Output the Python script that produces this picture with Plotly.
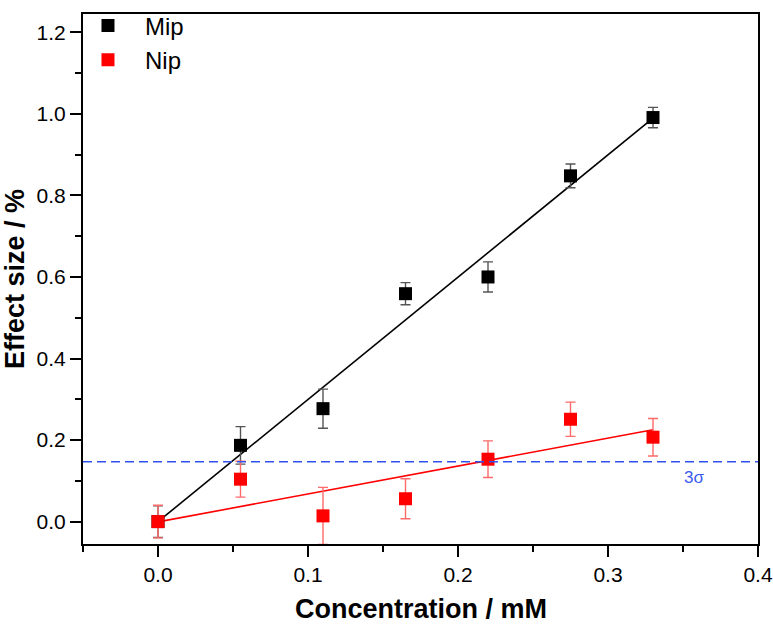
import numpy as np
import plotly.graph_objects as go

conc = [0.0, 0.055, 0.11, 0.165, 0.22, 0.275, 0.33]
mip = [0.0, 0.187, 0.277, 0.559, 0.600, 0.848, 0.991]
mip_err = [0.039, 0.046, 0.048, 0.027, 0.037, 0.029, 0.025]
nip = [0.0, 0.104, 0.014, 0.056, 0.153, 0.251, 0.207]
nip_err = [0.040, 0.044, 0.070, 0.049, 0.045, 0.042, 0.046]
three_sigma = 0.147

x_ticks = [0.0, 0.1, 0.2, 0.3, 0.4]
y_ticks = [0.0, 0.2, 0.4, 0.6, 0.8, 1.0, 1.2]

FONT = "Liberation Sans, Arial, sans-serif"

x = np.array(conc)
fit_x = np.array([x.min(), x.max()])

series = [
    ("Mip", mip, mip_err, "black", "#555555"),
    ("Nip", nip, nip_err, "#ff0000", "#ff6a6a"),
]

fig = go.Figure()

for name, yv, err, col, ecol in series:
    p = np.polyfit(x, np.array(yv), 1)
    fig.add_trace(go.Scatter(
        x=fit_x, y=np.polyval(p, fit_x), mode="lines",
        line=dict(color=col, width=1.6), showlegend=False, hoverinfo="skip"))

for name, yv, err, col, ecol in series:
    fig.add_trace(go.Scatter(
        x=conc, y=yv, mode="markers", name=name,
        marker=dict(symbol="square", size=13, color=col, line=dict(width=0)),
        error_y=dict(type="data", array=err, visible=True, color=ecol,
                     thickness=1.4, width=5)))

fig.add_hline(y=three_sigma, line=dict(color="#3050f0", width=1.5, dash="9px,5px"))
fig.add_annotation(x=0.357, y=three_sigma, yshift=-16, text="3σ", showarrow=False,
                   font=dict(family=FONT, size=17, color="#3a5af0"))

# x-axis title placed precisely below the tick labels
fig.add_annotation(xref="paper", yref="paper", x=0.5, y=0, yanchor="middle", yshift=-65,
                   text="<b>Concentration / mM</b>", showarrow=False,
                   font=dict(family=FONT, size=27, color="black"))

axis_common = dict(
    showline=True, linecolor="black", linewidth=2, mirror=True,
    ticks="outside", ticklen=11, tickwidth=2, tickcolor="black",
    showgrid=False, zeroline=False, automargin=False,
    tickfont=dict(family=FONT, size=21, color="black"),
)

fig.update_xaxes(
    range=[-0.05, 0.4], tickvals=x_ticks, ticktext=[f"{v:.1f}" for v in x_ticks],
    minor=dict(dtick=0.05, tick0=0, ticks="outside", ticklen=6, tickwidth=2, tickcolor="black"),
    **axis_common)
fig.update_yaxes(
    range=[-0.055, 1.245], tickvals=y_ticks, ticktext=[f"{v:.1f}" for v in y_ticks],
    minor=dict(dtick=0.1, tick0=0, ticks="outside", ticklen=6, tickwidth=2, tickcolor="black"),
    title=dict(text="<b>Effect size / %</b>", font=dict(family=FONT, size=27, color="black")),
    **axis_common)

fig.update_layout(
    width=773, height=625,
    margin=dict(l=83, r=15, t=3, b=81),
    plot_bgcolor="white", paper_bgcolor="white",
    font=dict(family=FONT, color="black"),
    legend=dict(x=-0.0178, y=1.02, xanchor="left", yanchor="top",
                font=dict(family=FONT, size=24, color="black"),
                bgcolor="rgba(0,0,0,0)", tracegroupgap=0, itemwidth=64),
)

fig.write_html("out.html", config={"displayModeBar": False},
               post_script="document.body.style.margin='0';document.body.style.overflow='hidden';")
